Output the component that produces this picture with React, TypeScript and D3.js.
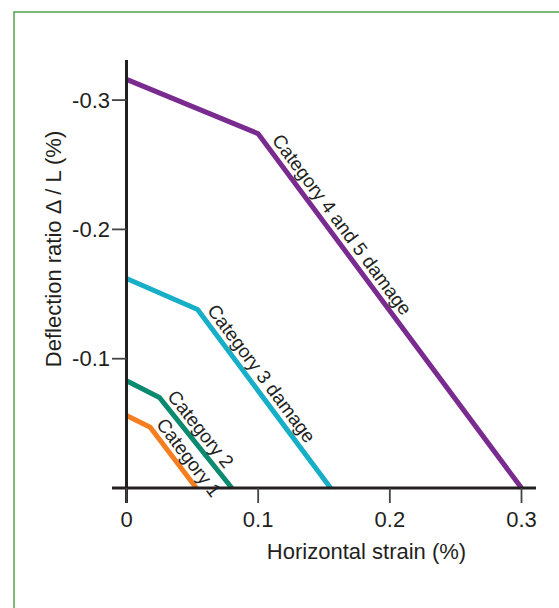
import React from "react";
import * as d3 from "d3";

const xTicks = [0, 0.1, 0.2, 0.3];
const xTickLabels = ["0", "0.1", "0.2", "0.3"];
const yTicks = [-0.3, -0.2, -0.1];
const yTickLabels = ["-0.3", "-0.2", "-0.1"];

const seriesNames = ["Category 4 and 5 damage", "Category 3 damage", "Category 2", "Category 1"];
const cat45X = [0, 0.1, 0.3];
const cat45Y = [-0.316, -0.274, 0];
const cat3X = [0, 0.054, 0.155];
const cat3Y = [-0.162, -0.138, 0];
const cat2X = [0, 0.025, 0.08];
const cat2Y = [-0.083, -0.07, 0];
const cat1X = [0, 0.018, 0.053];
const cat1Y = [-0.056, -0.047, 0];

const xTitle = "Horizontal strain (%)";
const yTitle = "Deflection ratio \u0394 / L (%)";

const W = 559;
const H = 608;
const FONT = "'Liberation Sans', Arial, Helvetica, sans-serif";
const TEXT = "#231f20";

export default function App() {
  const x = d3.scaleLinear().domain([0, 0.3]).range([126.5, 521.5]);
  const y = d3.scaleLinear().domain([0, -0.331]).range([488, 60]);

  const series = [
    { name: seriesNames[0], xs: cat45X, ys: cat45Y, color: "#7a2b8f", along: 13, off: 6.5 },
    { name: seriesNames[1], xs: cat3X, ys: cat3Y, color: "#17aec8", along: 6, off: 6.5 },
    { name: seriesNames[2], xs: cat2X, ys: cat2Y, color: "#0b8a6f", along: 4, off: 6 },
    { name: seriesNames[3], xs: cat1X, ys: cat1Y, color: "#f47e20", along: 1, off: 6 },
  ];

  const line = d3
    .line<[number, number]>()
    .x((d) => x(d[0]))
    .y((d) => y(d[1]));

  return (
    <svg
      width={W}
      height={H}
      style={{ position: "absolute", left: 0, top: 0, background: "#fff" }}
      fontFamily={FONT}
    >
      <rect x={0} y={0} width={W} height={H} fill="#fff" />
      <rect x={14} y={12} width={700} height={800} fill="none" stroke="#4ea24e" strokeWidth={1.5} />

      {series.map((s, i) => {
        const pts: [number, number][] = s.xs.map((v, k) => [v, s.ys[k]]);
        return (
          <path
            key={i}
            d={line(pts) || ""}
            fill="none"
            stroke={s.color}
            strokeWidth={5}
            strokeLinejoin="miter"
            strokeLinecap="butt"
          />
        );
      })}

      {series.map((s, i) => {
        const x1 = x(s.xs[1]);
        const y1 = y(s.ys[1]);
        const x2 = x(s.xs[2]);
        const y2 = y(s.ys[2]);
        const th = Math.atan2(y2 - y1, x2 - x1);
        const ux = Math.cos(th);
        const uy = Math.sin(th);
        const upx = Math.sin(th);
        const upy = -Math.cos(th);
        const px = x1 + ux * s.along + upx * s.off;
        const py = y1 + uy * s.along + upy * s.off;
        return (
          <text
            key={"l" + i}
            transform={`translate(${px},${py}) rotate(${(th * 180) / Math.PI})`}
            fontSize={19}
            fill={TEXT}
          >
            {s.name}
          </text>
        );
      })}

      {/* axes */}
      <line x1={x(0)} x2={x(0)} y1={60} y2={503} stroke={TEXT} strokeWidth={3} />
      <line x1={112} x2={536} y1={y(0)} y2={y(0)} stroke={TEXT} strokeWidth={3} />

      {yTicks.map((t, i) => (
        <g key={"yt" + i}>
          <line x1={112} x2={x(0)} y1={y(t)} y2={y(t)} stroke="#444" strokeWidth={1.8} />
          <text x={110} y={y(t)} dy="0.35em" textAnchor="end" fontSize={22} fill={TEXT}>
            {yTickLabels[i]}
          </text>
        </g>
      ))}
      {xTicks.map((t, i) => (
        <g key={"xt" + i}>
          <line x1={x(t)} x2={x(t)} y1={y(0)} y2={503} stroke="#444" strokeWidth={1.8} />
          <text x={x(t)} y={527} textAnchor="middle" fontSize={22} fill={TEXT}>
            {xTickLabels[i]}
          </text>
        </g>
      ))}

      <text x={366.5} y={559} textAnchor="middle" fontSize={22} fill={TEXT}>
        {xTitle}
      </text>
      <text transform="translate(61,249) rotate(-90)" textAnchor="middle" fontSize={22} fill={TEXT}>
        {yTitle}
      </text>
    </svg>
  );
}
